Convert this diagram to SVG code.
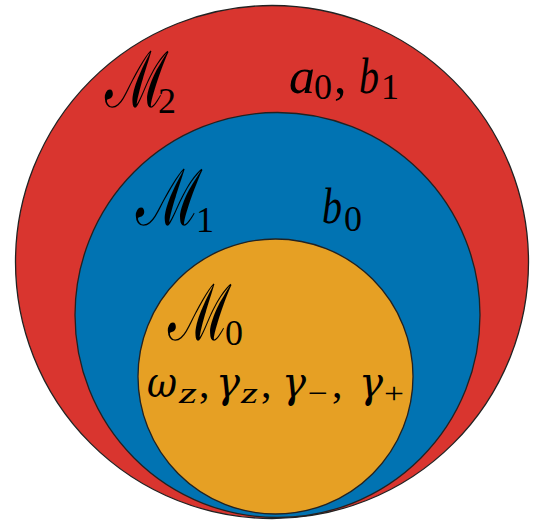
<svg xmlns="http://www.w3.org/2000/svg" width="536" height="520" viewBox="0 0 536 520">
<style>
.c{stroke:#222;stroke-width:1.3}
text{font-family:"Liberation Serif","DejaVu Serif",serif;fill:#000}
.i{font-style:italic}
.g{font-family:"DejaVu Serif","Liberation Serif",serif;font-style:italic}
.cal{font-family:"DejaVu Serif","Liberation Serif",serif;font-size:64px}
.big{font-size:50px}
.sub{font-size:36px}
.mid{font-size:42px}
.sm{font-size:30px}
</style>
<rect width="536" height="520" fill="#fff"/>
<g id="M2">
<circle class="c" cx="272" cy="262" r="256.5" fill="#D9352F"/>
<text class="cal" transform="translate(105 107) scale(0.86 1.22)">ℳ</text>
<text class="sub" x="158" y="113">2</text>
<text class="big i" x="289" y="93" textLength="26" lengthAdjust="spacingAndGlyphs">a</text>
<text class="sub" x="314" y="99">0</text>
<text class="big" x="334" y="93">,</text>
<text class="big i" x="359" y="93" textLength="20" lengthAdjust="spacingAndGlyphs">b</text>
<text class="sub" x="381" y="99">1</text>
</g>
<g id="M1">
<circle class="c" cx="277.5" cy="315" r="202.5" fill="#0173B2"/>
<text class="cal" transform="translate(136 225) scale(0.9 1.22)">ℳ</text>
<text class="sub" x="196" y="232">1</text>
<text class="big i" x="322" y="223" textLength="20" lengthAdjust="spacingAndGlyphs">b</text>
<text class="sub" x="344" y="231">0</text>
</g>
<g id="M0">
<circle class="c" cx="275.5" cy="376.5" r="137.5" fill="#E6A024"/>
<text class="cal" transform="translate(168 340) scale(0.86 1.22)">ℳ</text>
<text class="sub" x="225" y="345">0</text>
<text class="mid g" x="147" y="397" textLength="30" lengthAdjust="spacingAndGlyphs">ω</text>
<text class="sm i" x="179" y="403" textLength="18" lengthAdjust="spacingAndGlyphs">z</text>
<text class="mid" x="199" y="397">,</text>
<text class="mid g" x="216" y="397" textLength="24" lengthAdjust="spacingAndGlyphs">γ</text>
<text class="sm i" x="241" y="403" textLength="17" lengthAdjust="spacingAndGlyphs">z</text>
<text class="mid" x="261" y="397">,</text>
<text class="mid g" x="282" y="397" textLength="24" lengthAdjust="spacingAndGlyphs">γ</text>
<text class="sm" x="308" y="403" textLength="20" lengthAdjust="spacingAndGlyphs">−</text>
<text class="mid" x="332" y="397">,</text>
<text class="mid g" x="359" y="397" textLength="24" lengthAdjust="spacingAndGlyphs">γ</text>
<text class="sm" x="384" y="403" textLength="20" lengthAdjust="spacingAndGlyphs">+</text>
</g>
</svg>
